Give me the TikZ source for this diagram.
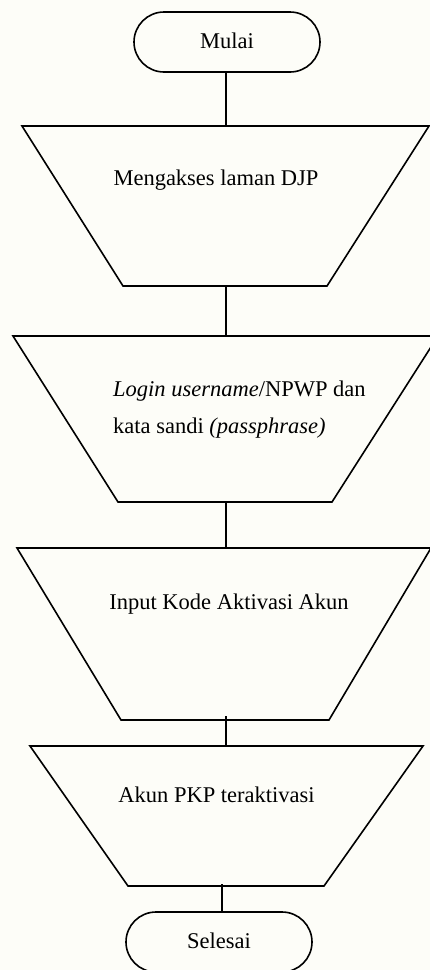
\documentclass[tikz,border=0pt]{standalone}
\usepackage{fontspec}
\setmainfont{Liberation Serif}
\definecolor{paper}{RGB}{253,253,248}
\begin{document}
\begin{tikzpicture}[x=1pt,y=-1pt,
  line/.style={line width=1.6pt,line join=miter},
  lbl/.style={font=\fontsize{22.5}{27}\selectfont,inner sep=0pt,anchor=base},
  term/.style={line, rounded corners=30pt}]
\useasboundingbox (0,0) rectangle (430,970);
\fill[paper] (0,0) rectangle (430,970);
\clip (0,0) rectangle (430,970);
% Mulai
\draw[term] (134,12) rectangle (320,72);
\node[lbl] (mulai) at (227,48) {Mulai};
\coordinate (mulaiB) at (226,72);
% Trapezoid 1
\draw[line] (22,126) -- (429,126) -- (327,286) -- (123,286) -- cycle;
\node[lbl] (t1) at (216,185) {Mengakses laman DJP};
\coordinate (t1T) at (226,126);
\coordinate (t1B) at (226,286);
% Trapezoid 2
\draw[line] (13,336) -- (438,336) -- (332,502) -- (118,502) -- cycle;
\node[lbl,anchor=base west] (t2) at (113,396) {\textit{Login username}/NPWP dan};
\node[lbl,anchor=base west] (t2b) at (113,433) {kata sandi \textit{(passphrase)}};
\coordinate (t2T) at (226,336);
\coordinate (t2B) at (226,502);
% Trapezoid 3
\draw[line] (17,548) -- (431,548) -- (329,720) -- (121,720) -- cycle;
\node[lbl] (t3) at (229,609) {Input Kode Aktivasi Akun};
\coordinate (t3T) at (226,548);
\coordinate (t3B) at (226,716);
% Trapezoid 4
\draw[line] (30,746) -- (423,746) -- (324,886) -- (128,886) -- cycle;
\node[lbl] (t4) at (216.5,802) {Akun PKP teraktivasi};
\coordinate (t4T) at (226,746);
\coordinate (t4B) at (222,884);
% Selesai
\draw[term] (126,912) rectangle (312,972);
\node[lbl] (selesai) at (219,948) {Selesai};
\coordinate (selesaiT) at (222,912);
% connectors
\draw[line] (mulaiB) -- (t1T);
\draw[line] (t1B) -- (t2T);
\draw[line] (t2B) -- (t3T);
\draw[line] (t3B) -- (t4T);
\draw[line] (t4B) -- (selesaiT);
\end{tikzpicture}
\end{document}
